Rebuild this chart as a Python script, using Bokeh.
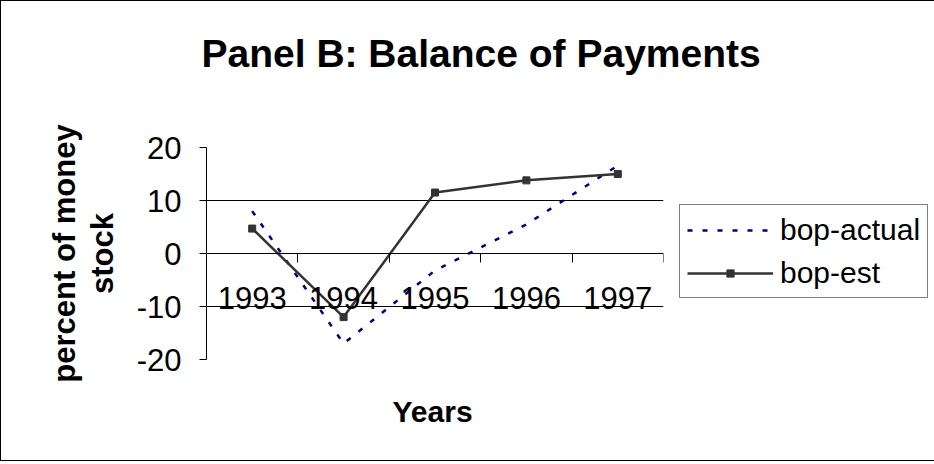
from bokeh.plotting import figure
from bokeh.models import (Range1d, FixedTicker, Legend, LegendItem, Title)
from bokeh.embed import file_html
from bokeh.resources import INLINE

# ---- data ----
years = ["1993", "1994", "1995", "1996", "1997"]
bop_actual = [8.0, -17.0, -3.2, 5.5, 16.6]
bop_est = [4.7, -12.0, 11.5, 13.8, 15.0]
y_ticks = [-20, -10, 0, 10, 20]
y_tick_labels = ["-20", "-10", "0", "10", "20"]
grid_ticks = [-10, 10]

xpos = list(range(1, len(years) + 1))
bounds = [i + 0.5 for i in range(0, len(years) + 1)]

FONT = "Liberation Sans"

p = figure(frame_width=457, frame_height=212, output_backend="svg", toolbar_location=None,
           x_range=Range1d(0.5, len(years) + 0.5), y_range=Range1d(-20, 20),
           min_border_left=205, min_border_right=262, min_border_top=146,
           min_border_bottom=96, title=None)
p.styles = {"border": "1px solid black"}
p.outline_line_color = None
p.background_fill_color = "white"
p.border_fill_color = "white"

# y axis
yax = p.yaxis[0]
yax.ticker = FixedTicker(ticks=y_ticks, minor_ticks=[])
yax.major_label_overrides = {t: s for t, s in zip(y_ticks, y_tick_labels)}
yax.major_tick_out = 7
yax.major_tick_in = 0
yax.minor_tick_out = 0
yax.minor_tick_in = 0
yax.axis_line_color = "black"
yax.major_tick_line_color = "black"
yax.major_label_text_font = FONT
yax.major_label_text_font_size = "31px"
yax.major_label_text_color = "black"
yax.major_label_standoff = 18
yax.axis_label = "percent of money\nstock"
yax.axis_label_text_font = FONT
yax.axis_label_text_font_size = "31px"
yax.axis_label_text_font_style = "bold"
yax.axis_label_text_color = "black"
yax.axis_label_text_line_height = 1.07
yax.axis_label_standoff = 14

# x axis at y = 0
xax = p.xaxis[0]
xax.fixed_location = 0
xax.ticker = FixedTicker(ticks=xpos, minor_ticks=bounds)
xax.major_label_overrides = {i: y for i, y in zip(xpos, years)}
xax.major_tick_out = 0
xax.major_tick_in = 0
xax.major_tick_line_color = None
xax.minor_tick_out = 9
xax.minor_tick_in = 0
xax.minor_tick_line_color = "black"
xax.axis_line_color = "black"
xax.major_label_text_font = FONT
xax.major_label_text_font_size = "31px"
xax.major_label_text_color = "black"
xax.major_label_standoff = 24

# grid
p.xgrid.visible = False
p.ygrid[0].ticker = FixedTicker(ticks=grid_ticks)
p.ygrid[0].grid_line_color = "black"
p.ygrid[0].grid_line_width = 1

# series
r_act = p.line(xpos, bop_actual, line_color="#000080", line_width=2.5, line_dash="5 10")
r_est = p.line(xpos, bop_est, line_color="#333333", line_width=2.5)
r_est_m = p.scatter(xpos, bop_est, marker="square", size=7, fill_color="#333333",
                    line_color="#333333")

legend = Legend(items=[LegendItem(label="bop-actual", renderers=[r_act]),
                       LegendItem(label="bop-est", renderers=[r_est, r_est_m])],
                location=(16, 61))
legend.label_text_font = FONT
legend.label_text_font_size = "30px"
legend.label_text_color = "black"
legend.glyph_width = 86
legend.glyph_height = 18
legend.label_height = 35
legend.label_standoff = 7
legend.padding = 7
legend.spacing = 8
legend.margin = 0
legend.border_line_color = "black"
legend.border_line_width = 1
legend.background_fill_alpha = 1
p.add_layout(legend, "right")

# title (spacer panel next to the frame, then the title itself)
p.add_layout(Title(text=" ", text_font_size="1px", standoff=70), "above")
p.add_layout(Title(text="Panel B: Balance of Payments", align="left", offset=-5,
                   text_font=FONT, text_font_size="39px", text_font_style="bold",
                   text_color="black", standoff=0), "above")

# x axis title
p.add_layout(Title(text="Years", align="left", offset=186, text_font=FONT,
                   text_font_size="30px", text_font_style="bold",
                   text_color="black", standoff=66), "below")

open("out.html", "w").write(file_html(p, INLINE))
